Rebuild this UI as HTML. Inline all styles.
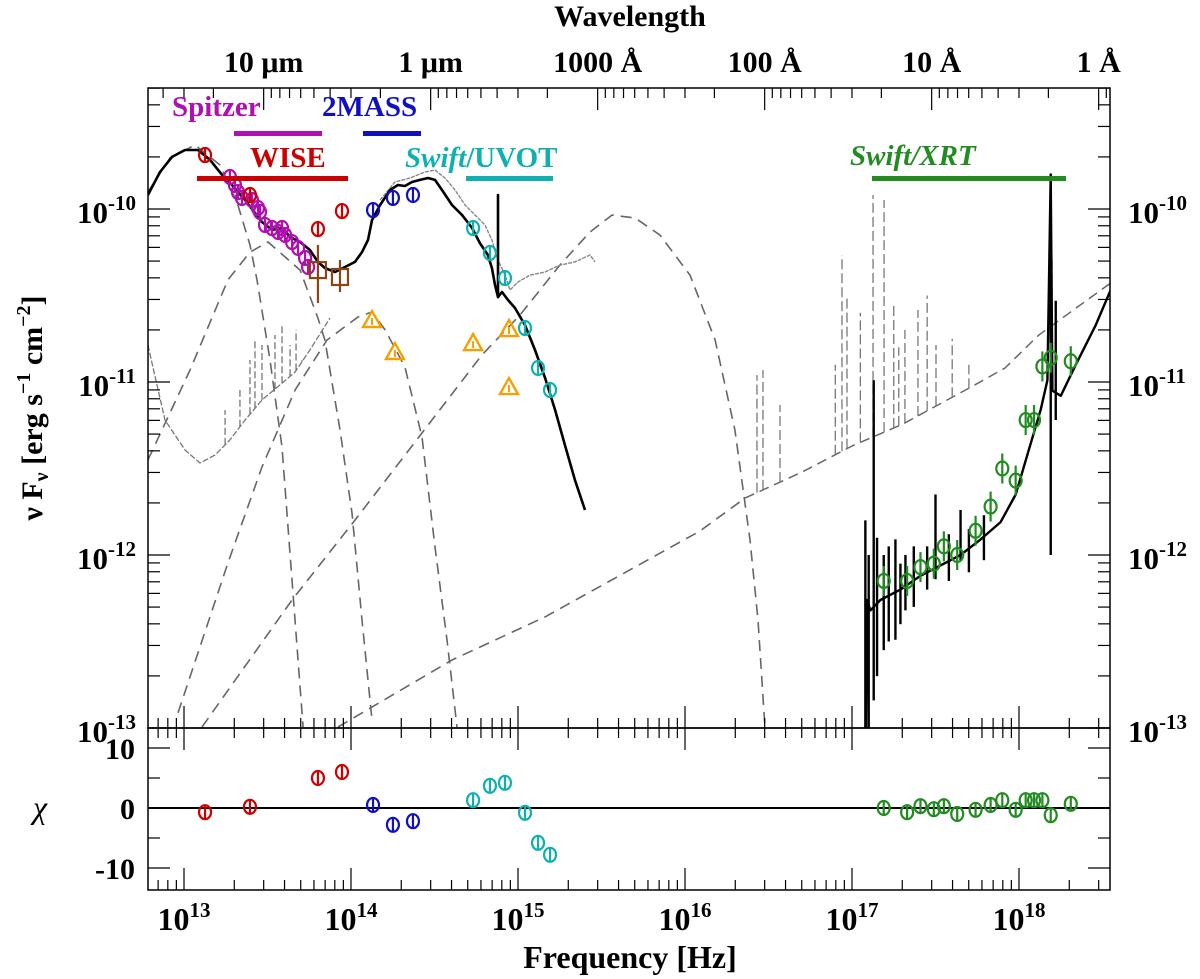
<!DOCTYPE html>
<html><head><meta charset="utf-8"><style>
html,body{margin:0;padding:0;background:#fff;}
svg{display:block;font-family:"Liberation Serif",serif;}
</style></head><body>
<svg id="c" width="1200" height="979" viewBox="0 0 1200 979" xmlns="http://www.w3.org/2000/svg">
<defs><clipPath id="mainclip"><rect x="148" y="88" width="962" height="640"/></clipPath>
<clipPath id="resclip"><rect x="148" y="728" width="962" height="162"/></clipPath></defs>
<g id="main" clip-path="url(#mainclip)"></g>
<g id="res" clip-path="url(#resclip)"></g>
<g id="axes"></g>
<text x="630" y="26" text-anchor="middle" font-size="30" font-weight="bold">Wavelength</text>
<text x="630" y="968" text-anchor="middle" font-size="32" font-weight="bold">Frequency [Hz]</text>
<text transform="translate(42,408) rotate(-90)" text-anchor="middle" font-size="30" font-weight="bold">ν F<tspan font-size="20" dy="6">ν</tspan><tspan dy="-6"> [erg s</tspan><tspan font-size="20" dy="-12">−1</tspan><tspan dy="12"> cm</tspan><tspan font-size="20" dy="-12">−2</tspan><tspan dy="12">]</tspan></text>
<text x="40" y="818" text-anchor="middle" font-size="32" font-style="italic">χ</text>
<g font-weight="bold" font-size="29">
<text x="172" y="116" fill="#b010b0">Spitzer</text>
<rect x="234" y="131" width="88" height="5" fill="#b010b0"/>
<text x="322" y="116" fill="#1010c0">2MASS</text>
<rect x="363" y="131" width="58" height="5" fill="#1010c0"/>
<text x="250" y="167" fill="#cc0000">WISE</text>
<rect x="197" y="176" width="151" height="5" fill="#cc0000"/>
<text x="405" y="167" fill="#10b0b0"><tspan font-style="italic">Swift</tspan>/UVOT</text>
<rect x="466" y="176" width="87" height="5" fill="#10b0b0"/>
<text x="850" y="165" fill="#228b22" font-style="italic">Swift/XRT</text>
<rect x="872" y="176" width="194" height="5" fill="#228b22"/>
</g>
</svg>
<script>
// ---- data (log10 nu [Hz], log10 nuFnu) ----
const modelOptNu=[12.784,12.856,12.928,13.006,13.084,13.156,13.228,13.287,13.365,13.425,13.467,13.527,13.587,13.635,13.695,13.754,13.802,13.844,13.904,13.964,14.024,14.066,14.102,14.126,14.174,14.234,14.281,14.323,14.365,14.413,14.461,14.503,14.545,14.605,14.665,14.725,14.772,14.820,14.844,14.862,14.880,14.880,14.880,14.904,14.940,14.982,15.042,15.102,15.162,15.222,15.281,15.341,15.401];
const modelOptF=[-9.919,-9.786,-9.699,-9.659,-9.659,-9.717,-9.803,-9.861,-9.948,-10.023,-10.075,-10.121,-10.110,-10.162,-10.191,-10.237,-10.306,-10.341,-10.364,-10.335,-10.306,-10.249,-10.179,-10.064,-9.977,-9.890,-9.861,-9.867,-9.844,-9.832,-9.821,-9.832,-9.890,-9.977,-10.035,-10.110,-10.197,-10.266,-10.341,-10.439,-10.509,-9.919,-10.509,-10.480,-10.526,-10.572,-10.671,-10.815,-10.977,-11.162,-11.364,-11.566,-11.740];
const modelXNu=[17.084,17.09,17.11,17.17,17.29,17.41,17.53,17.65,17.77,17.89,17.98,18.05,18.13,18.17,18.19,18.20,18.25,18.34,18.46,18.57];
const modelXF=[-13.0,-12.26,-12.32,-12.26,-12.20,-12.12,-12.06,-12.00,-11.91,-11.81,-11.65,-11.42,-11.16,-10.99,-9.80,-11.05,-11.08,-10.90,-10.67,-10.42];
const modelSpikeNu=[17.08,17.10,17.13,17.15,17.19,17.22,17.26,17.29,17.32,17.37,17.45,17.50,17.58,17.65,17.70,17.79,18.19,18.22];
const modelSpikeTop=[-11.80,-12.00,-10.99,-11.90,-12.00,-11.95,-11.91,-12.05,-12.00,-11.95,-11.95,-11.65,-11.88,-11.74,-11.85,-11.77,-9.80,-10.53];
const modelSpikeBot=[-13.0,-13.0,-12.84,-12.70,-12.55,-12.50,-12.49,-12.40,-12.32,-12.30,-12.20,-12.14,-12.15,-12.03,-12.10,-12.03,-12.00,-11.22];
const tmplOptNu=[14.174,14.263,14.353,14.443,14.503,14.563,14.623,14.683,14.743,14.802,14.844,14.880,14.922,14.952,15.000,15.072,15.162,15.251,15.341,15.431,15.461];
const tmplOptF=[-9.948,-9.844,-9.821,-9.786,-9.775,-9.821,-9.890,-9.977,-10.035,-10.092,-10.179,-10.295,-10.382,-10.468,-10.422,-10.382,-10.364,-10.324,-10.306,-10.266,-10.306];
const tmplIRNu=[12.784,12.886,13.006,13.096,13.186,13.275,13.365,13.467,13.575,13.665,13.754,13.874];
const tmplIRF=[-10.786,-11.220,-11.393,-11.468,-11.422,-11.335,-11.220,-11.104,-11.017,-10.942,-10.815,-10.630];
const tmplIRSpikeNu=[13.246,13.335,13.395,13.425,13.467,13.545,13.587,13.635,13.671,13.707];
const tmplIRSpikeF=[-11.162,-11.046,-10.873,-10.757,-10.786,-10.728,-10.671,-10.786,-10.699,-10.873];
const tmplXNu=[16.359,16.701,17.000,17.305,17.713,17.916,18.120,18.575];
const tmplXF=[-11.671,-11.520,-11.370,-11.243,-11.029,-10.919,-10.728,-10.410];
const tmplXSpikeNu=[16.431,16.467,16.569,16.90,16.940,16.97,17.05,17.126,17.192,17.25,17.28,17.317,17.395,17.45,17.503,17.6,17.7,18.198];
const tmplXSpikeF=[-10.960,-10.931,-11.133,-10.9,-10.266,-10.5,-10.6,-9.919,-9.948,-10.55,-10.8,-10.699,-10.584,-10.5,-10.786,-10.75,-10.9,-10.266];
const comp1Nu=[12.784,12.916,13.066,13.216,13.323,13.395,13.437,13.515,13.587,13.647,13.713];
const comp1F=[-9.902,-9.705,-9.630,-9.746,-9.977,-10.208,-10.410,-10.873,-11.376,-12.145,-12.994];
const comp2Nu=[12.784,13.036,13.263,13.395,13.503,13.695,13.802,13.844,13.934,14.006,14.066,14.126];
const comp2F=[-11.451,-10.931,-10.410,-10.249,-10.191,-10.353,-10.630,-10.757,-11.277,-11.757,-12.376,-12.954];
const comp3Nu=[12.964,13.263,13.467,13.665,13.856,14.042,14.126,14.204,14.323,14.425,14.503,14.575,14.635];
const comp3F=[-12.913,-12.046,-11.491,-11.046,-10.757,-10.624,-10.595,-10.699,-10.913,-11.318,-11.954,-12.491,-12.994];
const comp4Nu=[13.108,13.647,14.024,14.425,14.784,15.012,15.251,15.431,15.563,15.701,15.850,16.030,16.180,16.299,16.389,16.437,16.479];
const comp4F=[-12.994,-12.260,-11.798,-11.295,-10.844,-10.613,-10.324,-10.133,-10.035,-10.052,-10.150,-10.382,-10.757,-11.277,-11.913,-12.376,-13.0];
const comp5Nu=[13.922,14.605,15.162,16.090,16.359];
const comp5F=[-12.994,-12.607,-12.358,-11.861,-11.671];
const wiseNu=[13.126,13.395,13.802,13.946], wiseF=[-9.688,-9.919,-10.116,-10.012], wiseChi=[-0.7,0.2,5,6];
const spitzerNu=[13.275,13.305,13.323,13.347,13.407,13.443,13.455,13.485,13.527,13.563,13.587,13.605,13.647,13.683,13.725,13.743];
const spitzerF=[-9.815,-9.861,-9.902,-9.936,-9.948,-9.994,-10.017,-10.092,-10.110,-10.133,-10.110,-10.150,-10.191,-10.225,-10.283,-10.335];
const brownNu=[13.802,13.934], brownF=[-10.353,-10.393], brownHi=[-10.208,-10.295], brownLo=[-10.543,-10.480];
const tmassNu=[14.132,14.251,14.371], tmassF=[-10.006,-9.936,-9.919], tmassChi=[0.5,-2.8,-2.2];
const uvotNu=[14.731,14.832,14.922,15.042,15.120,15.192], uvotF=[-10.110,-10.254,-10.399,-10.688,-10.919,-11.046], uvotChi=[1.3,3.7,4.2,-0.8,-5.8,-7.8];
const triNu=[14.126,14.263,14.731,14.946,14.946], triF=[-10.642,-10.827,-10.775,-10.694,-11.029];
const xrtNu=[17.19,17.33,17.41,17.49,17.55,17.63,17.74,17.83,17.90,17.98,18.04,18.09,18.14,18.19,18.31];
const xrtF=[-12.15,-12.15,-12.07,-12.05,-11.95,-12.00,-11.86,-11.72,-11.50,-11.57,-11.22,-11.22,-10.91,-10.86,-10.88];
const xrtChi=[0,-0.7,0.3,-0.2,0.3,-1,-0.3,0.5,1.3,-0.3,1.3,1.3,1.3,-1.2,0.7];
const xTickExp=[13,14,15,16,17,18];
const yTickExp=[-10,-11,-12,-13];
const wlLabels=["10 μm","1 μm","1000 Å","100 Å","10 Å","1 Å"];
const wlLogNu=[13.477,14.477,15.477,16.477,17.477,18.477];
const chiTicks=[10,0,-10];

// ---- axis functions ----
const X=v=>184+(v-13)*167;
const Y=v=>209-(v+10)*173;
const YC=c=>808-c*6;
const NS="http://www.w3.org/2000/svg";
const main=document.getElementById('main'), res=document.getElementById('res'), axes=document.getElementById('axes');
function mk(tag,parent,attrs){const e=document.createElementNS(NS,tag);for(const k in attrs)e.setAttribute(k,attrs[k]);parent.appendChild(e);return e;}
function poly(parent,nu,f,style,name){
  const p=mk('polyline',parent,Object.assign({points:nu.map((v,i)=>X(v).toFixed(1)+','+Y(f[i]).toFixed(1)).join(' '),fill:'none'},style));
  
  
  return p;}
function interp(xs,ys,x){for(let i=0;i<xs.length-1;i++){if(x>=xs[i]&&x<=xs[i+1])return ys[i]+(ys[i+1]-ys[i])*(x-xs[i])/(xs[i+1]-xs[i]);}return ys[ys.length-1];}

const dashStyle={stroke:'#666','stroke-width':1.6,'stroke-dasharray':'11,7'};
const tmplStyle={stroke:'#777','stroke-width':1.3,'stroke-dasharray':'6,2'};
poly(main,comp1Nu,comp1F,dashStyle,'component-cold-dust');
poly(main,comp2Nu,comp2F,dashStyle,'component-warm-dust');
poly(main,comp3Nu,comp3F,dashStyle,'component-hot-dust');
poly(main,comp4Nu,comp4F,dashStyle,'component-disk');
poly(main,comp5Nu,comp5F,dashStyle,'component-powerlaw');
poly(main,tmplIRNu,tmplIRF,tmplStyle,'template-ir');
tmplIRSpikeNu.forEach((v,i)=>{const b=interp(tmplIRNu,tmplIRF,v);
  const l=mk('line',main,{x1:X(v),x2:X(v),y1:Y(b),y2:Y(tmplIRSpikeF[i]),stroke:'#777','stroke-width':1.3,'stroke-dasharray':'7,3'});
  
  });
poly(main,tmplOptNu,tmplOptF,{stroke:'#888','stroke-width':1.4,'stroke-dasharray':'4,1'},'template-optical');
poly(main,tmplXNu,tmplXF,{stroke:'#666','stroke-width':1.5,'stroke-dasharray':'10,6'},'template-xray');
tmplXSpikeNu.forEach((v,i)=>{const b=interp(tmplXNu,tmplXF,v);
  const l=mk('line',main,{x1:X(v),x2:X(v),y1:Y(b),y2:Y(tmplXSpikeF[i]),stroke:'#777','stroke-width':1.3,'stroke-dasharray':'10,4'});
  
  });
poly(main,modelOptNu,modelOptF,{stroke:'#000','stroke-width':2.6,'stroke-linejoin':'round'},'model-optical');
poly(main,modelXNu,modelXF,{stroke:'#000','stroke-width':2.4,'stroke-linejoin':'round'},'model-xray');
modelSpikeNu.forEach((v,i)=>{
  const l=mk('line',main,{x1:X(v),x2:X(v),y1:Y(modelSpikeTop[i]),y2:Y(modelSpikeBot[i]),stroke:'#000','stroke-width':2.4});
  
  });

function phi(parent,cx,cy,col,name,err){
  const g=mk('g',parent,{});
  
  
  mk('ellipse',g,{cx:cx,cy:cy,rx:6,ry:7,fill:'none',stroke:col,'stroke-width':2.2});
  mk('line',g,{x1:cx,x2:cx,y1:cy-(err||7),y2:cy+(err||7),stroke:col,'stroke-width':2.2});}
spitzerNu.forEach((v,i)=>phi(main,X(v),Y(spitzerF[i]),'#b010b0','spitzer-point',0));
wiseNu.forEach((v,i)=>phi(main,X(v),Y(wiseF[i]),'#cc0000','wise-point'));
tmassNu.forEach((v,i)=>phi(main,X(v),Y(tmassF[i]),'#1010c0','2mass-point'));
uvotNu.forEach((v,i)=>phi(main,X(v),Y(uvotF[i]),'#10b0b0','uvot-point',0));
xrtNu.forEach((v,i)=>phi(main,X(v),Y(xrtF[i]),'#228b22','xrt-point',15));
brownNu.forEach((v,i)=>{const g=mk('g',main,{});
  
  
  const cx=X(v),cy=Y(brownF[i]);
  mk('rect',g,{x:cx-8,y:cy-8,width:16,height:16,fill:'none',stroke:'#8b4513','stroke-width':2.2});
  mk('line',g,{x1:cx,x2:cx,y1:Y(brownHi[i]),y2:Y(brownLo[i]),stroke:'#8b4513','stroke-width':2.2});});
triNu.forEach((v,i)=>{const g=mk('g',main,{});
  
  
  const cx=X(v),cy=Y(triF[i]);
  mk('polygon',g,{points:`${cx-9},${cy+7} ${cx+9},${cy+7} ${cx},${cy-9}`,fill:'none',stroke:'#f5a000','stroke-width':2.4});
  mk('line',g,{x1:cx,x2:cx,y1:cy-2,y2:cy+5,stroke:'#f5a000','stroke-width':2});});

// residuals
const zl=mk('line',res,{x1:148,x2:1110,y1:YC(0),y2:YC(0),stroke:'#000','stroke-width':2});


wiseNu.forEach((v,i)=>phi(res,X(v),YC(wiseChi[i]),'#cc0000','wise-residual'));
tmassNu.forEach((v,i)=>phi(res,X(v),YC(tmassChi[i]),'#1010c0','2mass-residual'));
uvotNu.forEach((v,i)=>phi(res,X(v),YC(uvotChi[i]),'#10b0b0','uvot-residual'));
xrtNu.forEach((v,i)=>phi(res,X(v),YC(xrtChi[i]),'#228b22','xrt-residual'));

// frames
[[148,88,962,640],[148,728,962,162]].forEach((r,i)=>{const f=mk('rect',axes,{x:r[0],y:r[1],width:r[2],height:r[3],fill:'none',stroke:'#000','stroke-width':1.5});
  
  });
function tk(x1,y1,x2,y2){mk('line',axes,{x1,y1,x2,y2,stroke:'#000','stroke-width':1.2});}
for(let e=12;e<=18;e++)for(let m=1;m<10;m++){const x=X(e+Math.log10(m));if(x<148||x>1110)continue;
  const L=m===1?22:10; tk(x,890,x,890-L); tk(x,728,x,728-L); tk(x,728,x,728+L);}
for(let e=12;e<=19;e++)for(let m=1;m<10;m++){const x=X(e+0.477-Math.log10(m));if(x<148||x>1110)continue;
  const L=m===1?22:10; tk(x,88,x,88+L);}
for(let e=-14;e<=-9;e++)for(let m=1;m<10;m++){const y=Y(e+Math.log10(m));if(y<88||y>728)continue;
  const L=m===1?22:12; tk(148,y,148+L,y); tk(1110,y,1110-L,y);}
[-10,-5,0,5,10].forEach(c=>{const L=c%10===0?22:12;tk(148,YC(c),148+L,YC(c));tk(1110,YC(c),1110-L,YC(c));});
xTickExp.forEach(e=>{const t=mk('text',axes,{x:X(e),y:930,'text-anchor':'middle','font-size':32,'font-weight':'bold'});
  
  
  t.innerHTML=`10<tspan font-size="21" dy="-13">${e}</tspan>`;});
yTickExp.forEach(e=>{
  const t=mk('text',axes,{x:136,y:Y(e)+14,'text-anchor':'end','font-size':31,'font-weight':'bold'});
  
  
  t.innerHTML=`10<tspan font-size="21" dy="-13">${e}</tspan>`;
  const r=mk('text',axes,{x:1128,y:Y(e)+14,'font-size':31,'font-weight':'bold'});
  
  
  r.innerHTML=`10<tspan font-size="21" dy="-13">${e}</tspan>`;});
chiTicks.forEach(c=>{const t=mk('text',axes,{x:135,y:YC(c)+11,'text-anchor':'end','font-size':30,'font-weight':'bold'});
  
  
  t.textContent=String(c);});
wlLabels.forEach((s,i)=>{const t=mk('text',axes,{x:X(wlLogNu[i]),y:72,'text-anchor':'middle','font-size':30,'font-weight':'bold'});
  
  
  t.textContent=s;});
</script>
</body></html>
